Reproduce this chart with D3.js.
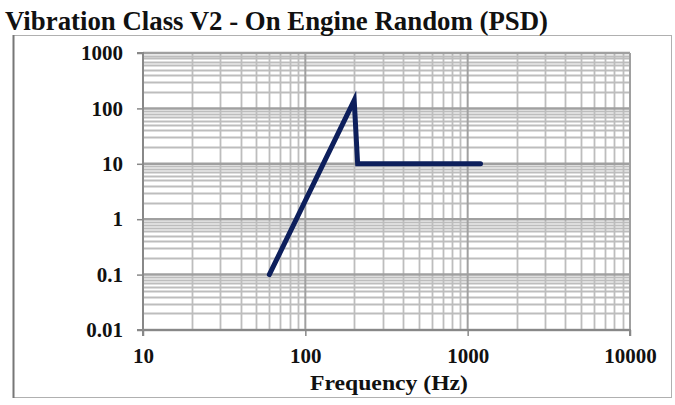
<!DOCTYPE html>
<html>
<head>
<meta charset="utf-8">
<script src="https://cdn.jsdelivr.net/npm/d3@7"></script>
<style>
  body { margin: 0; background: #fff; }
  text { font-family: "Liberation Serif", "Times New Roman", serif; font-weight: bold; fill: #111; }
</style>
</head>
<body>
<svg id="chart" width="675" height="405"></svg>
<script>
// PSD profile
var freqs = [60, 200, 210, 1200];
var psd = [0.1, 140, 10, 10];

var xTicks = [10, 100, 1000, 10000];
var yTicks = [0.01, 0.1, 1, 10, 100, 1000];
var yTickLabels = ["0.01", "0.1", "1", "10", "100", "1000"];

var svg = d3.select("#chart");

var plotL = 143, plotR = 630, plotT = 53, plotB = 330;

var x = d3.scaleLog().domain([10, 10000]).range([plotL, plotR]);
var y = d3.scaleLog().domain([0.01, 1000]).range([plotB, plotT]);

// outer frame
svg.append("rect")
  .attr("x", 13.5).attr("y", 35.5)
  .attr("width", 658).attr("height", 362)
  .attr("fill", "none")
  .attr("stroke", "#b0b0b0")
  .attr("stroke-width", 1);
svg.append("line")
  .attr("x1", 13.5).attr("x2", 13.5).attr("y1", 35).attr("y2", 398)
  .attr("stroke", "#777").attr("stroke-width", 2);

// title
svg.append("text")
  .attr("x", 5).attr("y", 30)
  .attr("font-size", 27)
  .attr("textLength", 543)
  .attr("lengthAdjust", "spacingAndGlyphs")
  .text("Vibration Class V2 - On Engine Random (PSD)");

// minor grid values
var minorX = [], minorY = [];
xTicks.slice(0, -1).forEach(function(d) {
  for (var m = 2; m <= 9; m++) minorX.push(d * m);
});
yTicks.slice(0, -1).forEach(function(d) {
  for (var m = 2; m <= 9; m++) minorY.push(d * m);
});

var grid = svg.append("g");
grid.selectAll(".gx").data(minorX).enter().append("line")
  .attr("x1", function(d) { return Math.round(x(d)) + 0.5; })
  .attr("x2", function(d) { return Math.round(x(d)) + 0.5; })
  .attr("y1", plotT).attr("y2", plotB)
  .attr("stroke", "#bdbdbd").attr("stroke-width", 1.8);
grid.selectAll(".gy").data(minorY).enter().append("line")
  .attr("y1", function(d) { return Math.round(y(d)) + 0.5; })
  .attr("y2", function(d) { return Math.round(y(d)) + 0.5; })
  .attr("x1", plotL).attr("x2", plotR)
  .attr("stroke", "#bdbdbd").attr("stroke-width", 1.8);
grid.selectAll(".mx").data(xTicks).enter().append("line")
  .attr("x1", function(d) { return x(d); })
  .attr("x2", function(d) { return x(d); })
  .attr("y1", plotT).attr("y2", plotB)
  .attr("stroke", "#a0a0a0").attr("stroke-width", 2);
grid.selectAll(".my").data(yTicks).enter().append("line")
  .attr("y1", function(d) { return y(d); })
  .attr("y2", function(d) { return y(d); })
  .attr("x1", plotL).attr("x2", plotR)
  .attr("stroke", "#a0a0a0").attr("stroke-width", 2.5);

// axes
var yAxis = d3.axisLeft(y).tickValues(yTicks)
  .tickFormat(function(d, i) { return yTickLabels[i]; })
  .tickSize(6).tickPadding(14);
var xAxis = d3.axisBottom(x).tickValues(xTicks)
  .tickFormat(d3.format("d"))
  .tickSize(6).tickPadding(12);

var gy = svg.append("g").attr("transform", "translate(" + plotL + ",0)").call(yAxis);
var gx = svg.append("g").attr("transform", "translate(0," + plotB + ")").call(xAxis);
[gx, gy].forEach(function(g) {
  g.select(".domain").attr("stroke", "#888").attr("stroke-width", 2);
  g.selectAll(".tick line").attr("stroke", "#888").attr("stroke-width", 1.5);
  g.selectAll("text").attr("font-size", 21)
    .attr("font-family", "Liberation Serif, serif").attr("font-weight", "bold").attr("fill", "#111");
});
gy.select(".domain").attr("d", "M-6," + plotT + "H0V" + plotB + "H-6");
gx.select(".domain").attr("d", "M" + plotL + ",6V0H" + plotR + "V6");

// x axis title
svg.append("text")
  .attr("x", 389).attr("y", 390)
  .attr("text-anchor", "middle")
  .attr("font-size", 22)
  .attr("textLength", 158)
  .attr("lengthAdjust", "spacingAndGlyphs")
  .text("Frequency (Hz)");

// PSD line
var line = d3.line()
  .x(function(d, i) { return x(freqs[i]); })
  .y(function(d, i) { return y(psd[i]); });

svg.append("path")
  .datum(freqs)
  .attr("d", line)
  .attr("fill", "none")
  .attr("stroke", "#0d1f5c")
  .attr("stroke-width", 5)
  .attr("stroke-linejoin", "miter")
  .attr("stroke-linecap", "round");
</script>
</body>
</html>
